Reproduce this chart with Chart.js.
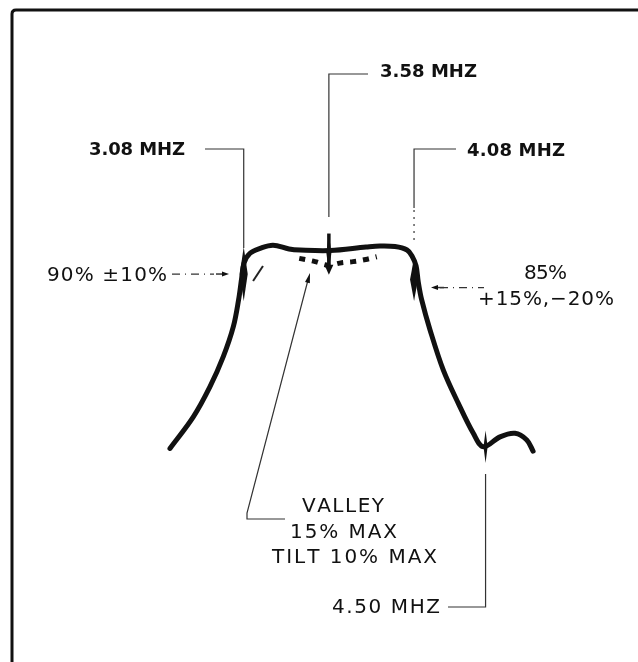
<!DOCTYPE html>
<html>
<head>
<meta charset="utf-8">
<script src="https://cdn.jsdelivr.net/npm/chart.js@4"></script>
<style>
  html, body { margin: 0; padding: 0; background: #fff; }
  #wrap { width: 638px; height: 662px; }
</style>
</head>
<body>
<div id="wrap"><canvas id="resp" width="638" height="662"></canvas></div>
<script>
// Chroma bandpass response: frequency (MHz) vs relative level (%)
const respFreq  = [2.647, 2.784, 2.882, 2.960, 3.019, 3.050, 3.068, 3.082, 3.117, 3.176, 3.252, 3.346, 3.411, 3.587, 3.798, 3.880, 3.968, 4.039, 4.068, 4.092, 4.105, 4.125, 4.174, 4.252, 4.340, 4.428, 4.487, 4.585, 4.673, 4.742, 4.779];
const respLevel = [25.4, 37.1, 48.3, 59.4, 70.5, 80.5, 88.5, 94.1, 97.7, 99.5, 100.7, 99.3, 98.9, 98.7, 100.0, 100.4, 100.2, 98.9, 96.7, 93.0, 87.0, 80.4, 69.3, 54.4, 42.1, 31.0, 26.0, 29.7, 31.0, 28.5, 24.4];

// dotted "valley" limit across the passband, plus the short edge dash
const valleyFreq  = [3.406, 3.499, 3.575, 3.655, 3.722, 3.796, 3.861];
const valleyLevel = [95.8, 94.6, 93.3, 94.2, 94.6, 95.4, 96.4];
const edgeFreq  = [3.135, 3.193];
const edgeLevel = [87.4, 93.0];

// marker frequencies and the span of each tick mark (%)
const markerFreq = [3.08, 3.58, 4.08, 4.50];
const markerLow  = [80, 90.5, 80, 20];
const markerHigh = [100, 105, 96, 32];
const markerLabels = ['3.08 MHZ', '3.58 MHZ', '4.08 MHZ', '4.50 MHZ'];

// level specs at the band edges
const lowEdgeLevel = 90;
const highEdgeLevel = 85;
const lowEdgeText = '90% \u00b110%';
const highEdgeText = ['85%', '+15%,\u221220%'];
const valleyText = ['VALLEY', '15% MAX', 'TILT 10% MAX'];

const toPts = (xs, ys) => xs.map((x, i) => ({ x: x, y: ys[i] }));

function spaced(ctx, text, left, midY, width) {
  const chars = [...text];
  const ws = chars.map(c => ctx.measureText(c).width);
  const total = ws.reduce((a, b) => a + b, 0);
  const gap = chars.length > 1 ? (width - total) / (chars.length - 1) : 0;
  let cx = left;
  chars.forEach((c, i) => { ctx.fillText(c, cx, midY); cx += ws[i] + gap; });
}

function arrowHead(ctx, x, y, ang, len, half) {
  ctx.save();
  ctx.translate(x, y);
  ctx.rotate(ang);
  ctx.beginPath();
  ctx.moveTo(0, 0);
  ctx.lineTo(-len, -half);
  ctx.lineTo(-len, half);
  ctx.closePath();
  ctx.fill();
  ctx.restore();
}

function spike(ctx, x, y1, y2, w) {
  const mid = (y1 + y2) / 2;
  ctx.beginPath();
  ctx.moveTo(x, y1);
  ctx.lineTo(x + w / 2, mid);
  ctx.lineTo(x, y2);
  ctx.lineTo(x - w / 2, mid);
  ctx.closePath();
  ctx.fill();
}

function line(ctx, pts) {
  ctx.beginPath();
  ctx.moveTo(pts[0][0], pts[0][1]);
  for (let i = 1; i < pts.length; i++) ctx.lineTo(pts[i][0], pts[i][1]);
  ctx.stroke();
}

// frame, leaders, tick marks and lettering
const notes = {
  id: 'notes',
  afterDatasetsDraw(chart) {
    const ctx = chart.ctx;
    const px = v => chart.scales.x.getPixelForValue(v);
    const py = v => chart.scales.y.getPixelForValue(v);
    ctx.save();
    ctx.fillStyle = '#111';
    ctx.strokeStyle = '#111';

    // frame: top and left edges
    ctx.lineWidth = 3;
    ctx.beginPath();
    ctx.moveTo(12, 662);
    ctx.lineTo(12, 14);
    ctx.quadraticCurveTo(12, 10, 16, 10);
    ctx.lineTo(640, 10);
    ctx.stroke();

    // tick marks on the curve
    const tw = [8, 5, 8, 4];
    markerFreq.forEach((f, i) => spike(ctx, px(f), py(markerHigh[i]), py(markerLow[i]), tw[i]));
    const x358 = px(3.58);
    arrowHead(ctx, x358, py(markerLow[1]) + 2, Math.PI / 2, 10, 4.5);
    ctx.lineWidth = 3.5;
    line(ctx, [[x358, py(markerHigh[1])], [x358, py(markerLow[1]) - 4]]);
    ctx.lineWidth = 2;
    line(ctx, [[px(4.5) - 5, py(26) + 1], [px(4.5) + 5, py(26) - 2]]);

    // leaders
    ctx.lineWidth = 1.2;
    ctx.strokeStyle = '#333';
    const x308 = px(3.08), x408 = px(4.08), x450 = px(4.5);
    line(ctx, [[x358, 217], [x358, 74], [368, 74]]);
    line(ctx, [[205, 149], [x308, 149], [x308, 248]]);
    line(ctx, [[456, 149], [x408, 149], [x408, 208]]);
    ctx.setLineDash([2, 5]);
    line(ctx, [[x408, 210], [x408, 244]]);
    ctx.setLineDash([]);
    line(ctx, [[x450, 474], [x450, 607], [448, 607]]);

    // valley leader
    line(ctx, [[308, 280], [247, 513], [247, 519], [285, 519]]);
    arrowHead(ctx, 310, 273, Math.atan2(-239, 63), 10, 2.5);

    // band-edge level arrows
    const y90 = py(lowEdgeLevel), y85 = py(highEdgeLevel);
    ctx.setLineDash([8, 5, 1, 5]);
    line(ctx, [[172, y90], [214, y90]]);
    line(ctx, [[440, y85], [484, y85]]);
    ctx.setLineDash([]);
    ctx.lineWidth = 1.5;
    line(ctx, [[216, y90], [224, y90]]);
    arrowHead(ctx, 229, y90, 0, 7, 2.5);
    line(ctx, [[436, y85], [444, y85]]);
    arrowHead(ctx, 431, y85, Math.PI, 7, 2.5);

    // lettering
    ctx.textBaseline = 'middle';
    ctx.textAlign = 'left';
    ctx.font = 'bold 18px "DejaVu Sans"';
    spaced(ctx, markerLabels[0], 89, 150, 96);
    spaced(ctx, markerLabels[1], 380, 72, 97);
    spaced(ctx, markerLabels[2], 467, 151, 98);
    ctx.font = '20px "DejaVu Sans"';
    spaced(ctx, markerLabels[3], 332, 608, 108);
    spaced(ctx, lowEdgeText, 47, 276, 120);
    spaced(ctx, highEdgeText[0], 524, 274, 43);
    spaced(ctx, highEdgeText[1], 478, 300, 136);
    spaced(ctx, valleyText[0], 302, 507, 82);
    spaced(ctx, valleyText[1], 290, 533, 107);
    spaced(ctx, valleyText[2], 272, 558, 165);
    ctx.restore();
  }
};

new Chart(document.getElementById('resp'), {
  type: 'line',
  data: {
    datasets: [
      {
        data: toPts(respFreq, respLevel),
        borderColor: '#111',
        borderWidth: 5,
        tension: 0.35,
        borderCapStyle: 'round',
        borderJoinStyle: 'round',
        pointRadius: 0,
        fill: false
      },
      {
        data: toPts(valleyFreq, valleyLevel),
        borderColor: '#111',
        borderWidth: 5,
        borderDash: [6, 7],
        tension: 0.35,
        pointRadius: 0,
        fill: false
      },
      {
        data: toPts(edgeFreq, edgeLevel),
        borderColor: '#222',
        borderWidth: 2,
        pointRadius: 0,
        fill: false
      }
    ]
  },
  options: {
    responsive: false,
    animation: false,
    events: [],
    layout: { padding: 0 },
    scales: {
      x: { type: 'linear', min: 1.649, max: 5.395, display: false },
      y: { type: 'linear', min: -53.7, max: 191.5, display: false }
    },
    plugins: {
      legend: { display: false },
      tooltip: { enabled: false },
      title: { display: false }
    }
  },
  plugins: [notes]
});
</script>
</body>
</html>
